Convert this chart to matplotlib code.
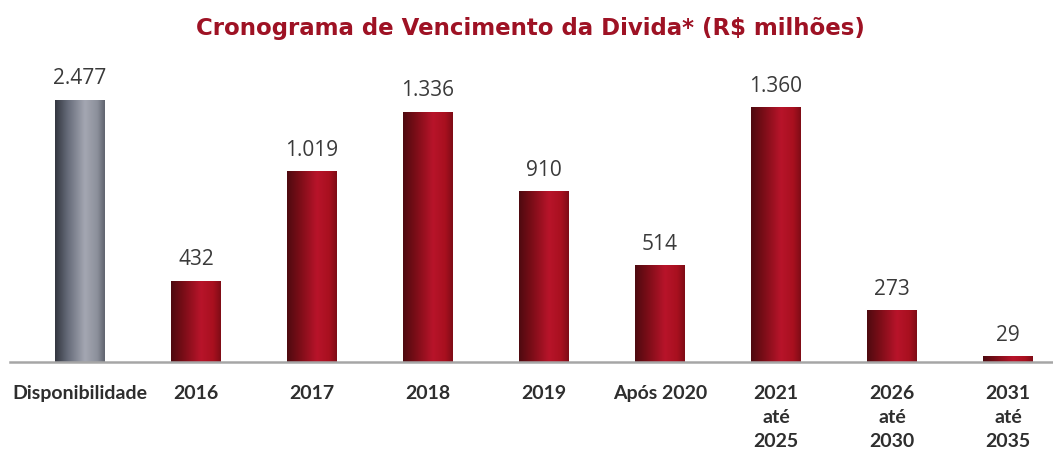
import numpy as np
import matplotlib
matplotlib.use("Agg")
import matplotlib.pyplot as plt
from matplotlib.colors import LinearSegmentedColormap

categories = ["Disponibilidade", "2016", "2017", "2018", "2019", "Após 2020",
              "2021\naté\n2025", "2026\naté\n2030", "2031\naté\n2035"]
values = [2477, 432, 1019, 1336, 910, 514, 1360, 273, 29]
value_labels = ["2.477", "432", "1.019", "1.336", "910", "514", "1.360", "273", "29"]
title = "Cronograma de Vencimento da Divida* (R$ milhões)"

DISPLAY_CAP = 1400  # first bar drawn truncated as in the reference

fig = plt.figure(figsize=(10.53, 4.52), dpi=100)
W, H = 1053, 452
base_y = 363
top_y = 60
ax = fig.add_axes([10 / W, (H - base_y) / H, (W - 10) / W, (base_y - top_y) / H])

scale = 0.187  # px per unit
ytop = (base_y - top_y) / scale
unit = 116.0
xleft = -(80 - 10) / unit
xright = xleft + (W - 10) / unit

red_cmap = LinearSegmentedColormap.from_list(
    "red", [(0, "#4e0a10"), (0.25, "#7a0d17"), (0.6, "#b8142a"), (0.85, "#a8101f"), (1, "#7e0c16")])
grey_cmap = LinearSegmentedColormap.from_list(
    "grey", [(0, "#33363f"), (0.25, "#656a78"), (0.6, "#a4a7b2"), (0.85, "#8c909b"), (1, "#5f636e")])

grad = np.linspace(0, 1, 256).reshape(1, -1)
width = 0.43
x = np.arange(len(values))
for i, v in enumerate(values):
    h = min(v, DISPLAY_CAP)
    cmap = grey_cmap if i == 0 else red_cmap
    ax.imshow(grad, cmap=cmap, aspect="auto", interpolation="bicubic",
              extent=[x[i] - width / 2, x[i] + width / 2, 0, h], zorder=2)
    ax.annotate(value_labels[i], (x[i], h), xytext=(0, 8.5), textcoords="offset points",
                ha="center", va="bottom", fontsize=15, color="#3a3a3a",
                family=["Open Sans", "DejaVu Sans"])

ax.set_xlim(xleft, xright)
ax.set_ylim(0, ytop)
for s in ["top", "right", "left"]:
    ax.spines[s].set_visible(False)
ax.spines["bottom"].set_color("#a6a6a6")
ax.spines["bottom"].set_linewidth(1.8)
ax.spines["bottom"].set_zorder(3)
ax.set_yticks([])
ax.set_xticks(x)
ax.set_xticklabels(categories, fontsize=14, fontweight="bold", color="#2e2e2e",
                   family=["Lato", "DejaVu Sans"], linespacing=1.5, va="top")
ax.tick_params(axis="x", length=0, pad=16)

fig.text(530 / W, 1 - 28 / H, title, ha="center", va="center", fontsize=16.5,
         fontweight="bold", color="#9e1224", family=["DejaVu Sans"])

fig.savefig("out.png", dpi=100)
